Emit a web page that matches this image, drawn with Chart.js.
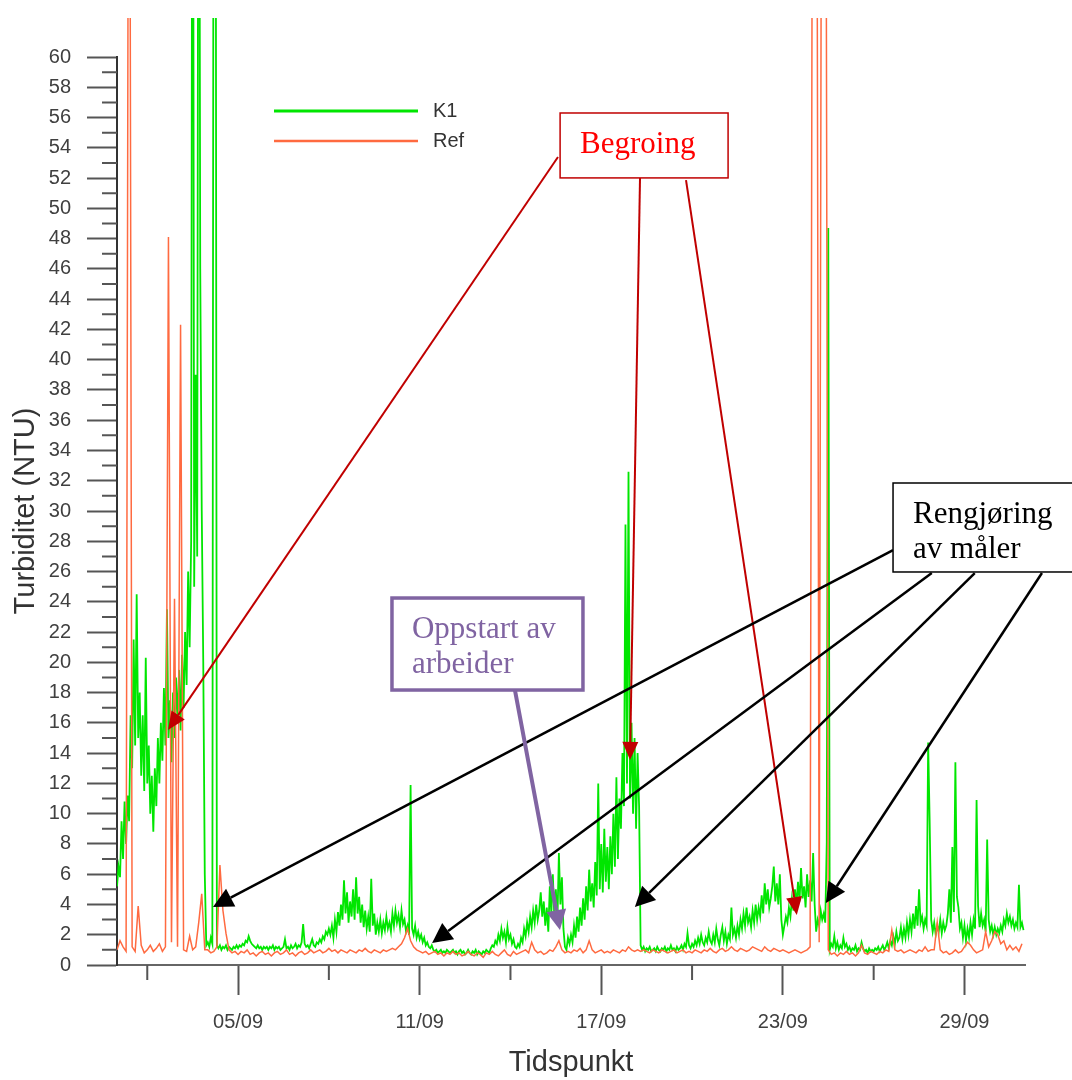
<!DOCTYPE html>
<html>
<head>
<meta charset="utf-8">
<title>Turbiditet K1 / Ref</title>
<script src="https://cdn.jsdelivr.net/npm/chart.js@4.4.1/dist/chart.umd.min.js"></script>
<style>
  html, body { margin: 0; padding: 0; background: #fff; }
  canvas { display: block; }
</style>
</head>
<body>
<canvas id="turbChart" width="1072" height="1080"></canvas>
<script>
/* ---------------- DATA ---------------- */

// x = day of September (1 = 01/09 00:00)
const firstDay = 1;
const k1Step = 0.05;   // K1 read every 1.2 h
const refStep = 0.1;   // Ref read every 2.4 h

// one row = one day
const k1Values = [
  5.2, 6.5, 5.8, 9.5, 7.0, 10.8, 8.0, 11.2, 9.5, 16.5, 13.0, 21.5, 14.5, 24.5, 15.0, 18.0, 12.5, 16.5, 11.5, 20.3,
  12.0, 14.5, 10.0, 12.5, 8.8, 13.0, 10.5, 15.0, 12.0, 16.0, 13.5, 18.3, 14.5, 23.5, 15.0, 17.5, 13.4, 18.0, 15.0, 19.0,
  16.0, 19.5, 15.5, 20.5, 17.0, 22.0, 18.5, 26.0, 21.0, 28.0, 100, 25.0, 39.0, 27.0, 100, 46.0, 30.0, 20.0, 6.0, 1.3,
  1.5, 1.2, 1.8, 1.4, 100, 100, 1.3, 1.1, 1.3, 1.0, 1.2, 1.1, 1.3, 1.0, 1.2, 1.1, 1.0, 1.2, 1.1, 1.3,
  1.1, 1.3, 1.2, 1.4, 1.3, 1.6, 1.5, 1.9, 1.6, 1.4, 1.3, 1.2, 1.1, 1.3, 1.1, 1.2, 1.0, 1.2, 1.1, 1.2,
  1.0, 1.2, 1.1, 1.3, 1.0, 1.2, 1.1, 1.2, 1.0, 1.1, 1.2, 1.7, 1.1, 1.2, 1.0, 1.3, 1.1, 1.2, 1.4, 1.1,
  1.3, 1.2, 1.5, 2.7, 1.4, 1.2, 1.3, 1.1, 1.4, 1.7, 1.3, 1.2, 1.5, 1.4, 1.7, 1.5, 1.9, 1.7, 2.2, 2.0,
  2.4, 2.0, 2.6, 1.8, 3.0, 2.2, 3.5, 2.6, 4.0, 3.0, 5.6, 3.4, 4.8, 2.8, 4.2, 3.2, 5.0, 3.0, 5.8, 3.4,
  4.5, 2.8, 4.0, 2.5, 3.6, 2.4, 3.2, 2.2, 5.7, 2.6, 3.4, 2.0, 2.8, 2.2, 3.0, 2.1, 2.8, 2.3, 3.2, 2.4,
  2.8, 2.2, 3.4, 2.6, 3.6, 2.8, 3.3, 2.5, 3.6, 2.7, 3.0, 2.2, 2.6, 2.0, 11.9, 2.4, 2.0, 2.6, 1.8, 2.2,
  1.7, 2.0, 1.5, 1.8, 1.3, 1.5, 1.2, 1.1, 1.3, 1.0, 0.9, 1.0, 0.8, 0.9, 1.0, 0.8, 0.9, 0.8, 1.0, 0.9,
  0.8, 0.9, 1.0, 0.8, 0.9, 0.7, 0.9, 1.0, 0.8, 0.9, 0.7, 0.8, 1.0, 0.8, 0.7, 0.9, 0.8, 1.0, 0.7, 0.9,
  0.8, 0.7, 0.9, 0.8, 1.0, 0.9, 0.8, 1.1, 1.3, 1.2, 1.6, 1.4, 2.0, 1.6, 2.4, 1.8, 2.2, 1.5, 2.5, 1.7,
  2.0, 1.4, 1.7, 1.2, 1.1, 1.4, 1.2, 1.8, 1.5, 2.4, 1.9, 2.8, 2.2, 3.2, 2.5, 3.6, 2.8, 4.0, 3.0, 3.6,
  4.8, 3.2, 4.2, 2.6, 3.8, 2.2, 5.2, 3.4, 6.0, 3.0, 5.0, 2.8, 7.4, 4.0, 5.8, 2.4, 1.2, 1.0, 1.8, 1.4,
  2.0, 1.5, 2.6, 1.8, 3.2, 2.2, 3.8, 2.6, 4.4, 3.0, 5.2, 3.6, 6.3, 4.2, 5.4, 3.8, 6.8, 4.6, 12.0, 5.0,
  8.0, 4.8, 9.0, 5.5, 7.8, 5.0, 8.5, 6.0, 10.0, 6.5, 12.4, 7.0, 11.0, 9.0, 14.0, 10.5, 29.1, 12.0, 32.6, 11.0,
  16.0, 10.0, 15.0, 9.0, 14.0, 10.5, 1.3, 1.0, 1.2, 0.9, 1.1, 1.0, 1.2, 0.9, 1.0, 1.1, 0.9, 1.2, 1.0, 0.9,
  1.1, 1.0, 1.2, 0.9, 1.1, 1.0, 1.3, 1.0, 1.1, 0.9, 1.2, 1.0, 1.1, 1.3, 1.0, 1.4, 1.2, 2.1, 1.3, 1.1,
  1.4, 1.2, 1.6, 1.3, 1.8, 1.4, 2.0, 1.5, 1.3, 1.8, 1.5, 2.2, 1.6, 1.4, 2.0, 1.5, 2.4, 1.7, 1.3, 2.0,
  2.5, 1.6, 2.2, 1.4, 2.0, 1.7, 3.8, 2.0, 2.4, 1.8, 2.6, 2.0, 3.0, 2.4, 3.4, 2.6, 3.8, 2.8, 3.2, 2.5,
  3.6, 2.8, 4.0, 3.0, 3.8, 3.2, 4.6, 3.4, 5.4, 4.0, 5.0, 3.8, 4.4, 5.2, 6.5, 4.2, 5.4, 4.0, 6.0, 3.0,
  2.0, 2.6, 3.2, 2.8, 3.8, 3.2, 4.4, 3.6, 5.0, 4.0, 5.5, 4.2, 6.4, 4.4, 5.2, 3.8, 6.0, 4.5, 5.6, 4.2,
  7.4, 4.0, 2.2, 3.0, 2.6, 3.6, 3.0, 3.4, 2.8, 8.1, 48.7, 1.0, 1.4, 1.2, 1.9, 1.1, 1.5, 1.0, 1.3, 1.1,
  1.8, 1.2, 1.4, 1.0, 1.2, 0.9, 1.1, 1.0, 1.3, 0.9, 1.1, 1.0, 1.5, 1.1, 0.9, 1.0, 0.8, 1.1, 0.9, 1.0,
  0.9, 1.1, 1.0, 1.2, 0.9, 1.1, 1.3, 1.0, 1.2, 1.5, 1.1, 1.6, 1.3, 1.9, 1.4, 2.2, 1.6, 1.8, 2.5, 1.7,
  2.4, 1.8, 2.8, 2.0, 3.0, 2.2, 3.4, 2.4, 3.9, 2.6, 5.0, 2.8, 3.2, 2.4, 3.0, 2.6, 14.7, 9.5, 3.0, 2.2,
  2.8, 2.0, 2.6, 2.2, 3.0, 2.1, 2.8, 2.3, 2.6, 3.4, 5.0, 2.8, 7.8, 3.5, 13.4, 4.5, 3.8, 2.4, 2.8, 1.8,
  2.6, 1.6, 2.4, 1.8, 2.8, 2.0, 3.0, 2.4, 10.9, 3.9, 2.5, 3.4, 2.6, 3.0, 2.2, 8.3, 3.0, 2.2, 2.6, 2.0,
  2.5, 2.0, 2.4, 2.1, 2.6, 2.2, 3.0, 2.6, 3.4, 2.8, 3.2, 2.6, 3.0, 2.4, 2.8, 2.5, 5.3, 2.5, 2.8, 2.3
];

const refValues = [
  1.0, 1.6, 1.2, 0.9, 100, 1.2, 0.9, 3.9, 1.3, 0.8,
  1.0, 1.3, 0.9, 1.1, 1.4, 0.9, 1.2, 48.1, 1.5, 24.2,
  1.2, 42.3, 1.0, 0.9, 1.9, 1.0, 1.2, 2.8, 4.7, 1.0,
  1.0, 0.8, 0.9, 1.2, 6.6, 3.6, 2.1, 1.0, 0.8, 0.9,
  0.7, 0.9, 0.8, 1.0, 0.7, 0.8, 0.6, 0.8, 0.9, 0.7,
  0.8, 0.6, 0.8, 0.9, 0.7, 0.8, 1.0, 0.7, 0.8, 0.6,
  0.8, 0.9, 0.7, 0.8, 1.0, 0.8, 0.9, 1.0, 0.8, 0.9,
  1.1, 0.9, 1.0, 0.8, 1.0, 0.9, 0.8, 1.0, 0.9, 0.8,
  1.0, 0.9, 1.1, 0.9, 0.8, 1.0, 0.9, 0.8, 1.0, 0.9,
  1.0, 1.1, 1.0, 1.2, 1.4, 1.8, 2.4, 1.6, 1.2, 1.0,
  0.9, 0.8, 0.9, 0.7, 0.8, 0.9, 0.7, 0.8, 0.6, 0.8,
  0.7, 0.9, 0.7, 0.8, 0.6, 0.7, 0.9, 0.7, 0.6, 0.8,
  0.7, 0.5, 0.8, 0.7, 0.9, 0.7, 0.6, 0.8, 1.0, 0.7,
  0.6, 0.9, 0.7, 0.8, 0.9, 1.0, 0.8, 1.5, 1.0, 0.8,
  0.9, 0.7, 0.8, 1.0, 0.9, 1.2, 1.6, 1.0, 0.8, 0.9,
  0.8, 1.0, 0.9, 1.1, 0.8, 1.0, 1.6, 1.0, 0.8, 0.9,
  1.0, 0.8, 0.9, 0.8, 1.0, 0.9, 0.8, 1.0, 0.9, 1.2,
  1.0, 0.9, 1.0, 0.9, 1.0, 0.9, 0.8, 1.0, 0.9, 0.8,
  1.0, 0.9, 0.8, 0.9, 1.0, 0.8, 0.9, 1.0, 0.8, 0.9,
  0.8, 1.0, 0.9, 0.8, 1.0, 0.9, 1.1, 0.9, 0.8, 1.0,
  1.1, 0.9, 1.0, 1.2, 1.0, 0.9, 1.1, 1.0, 0.9, 1.0,
  1.2, 1.1, 1.0, 0.9, 1.2, 1.0, 0.9, 1.1, 1.0, 0.9,
  1.0, 0.9, 0.8, 0.9, 1.0, 0.9, 0.8, 0.9, 1.0, 1.2,
  100, 100, 1.5, 100, 100, 1.0, 0.7, 0.8, 0.6, 0.8,
  0.7, 0.9, 0.7, 0.8, 0.6, 0.8, 1.3, 0.8, 0.7, 0.9,
  0.8, 0.7, 0.9, 0.8, 1.0, 0.9, 2.3, 1.0, 0.9, 1.0,
  0.8, 0.9, 1.0, 0.9, 0.8, 1.0, 0.9, 1.2, 0.9, 1.0,
  1.0, 2.8, 1.0, 0.8, 0.9, 0.7, 0.8, 1.0, 0.8, 0.9,
  1.2, 1.5, 1.3, 1.0, 0.8, 0.9, 1.0, 2.2, 1.2, 1.6,
  2.2, 2.0, 1.4, 1.6, 1.0, 1.3, 1.0, 1.2, 0.9, 1.4
];

const xMajorDays = [5, 11, 17, 23, 29];
const xMajorLabels = ["05/09", "11/09", "17/09", "23/09", "29/09"];
const xMinorDays = [2, 8, 14, 20, 26];
const yMinorTicks = [1, 3, 5, 7, 9, 11, 13, 15, 17, 19, 21, 23, 25, 27, 29,
  31, 33, 35, 37, 39, 41, 43, 45, 47, 49, 51, 53, 55, 57, 59];

/* ---------------- CALLOUTS (in day / NTU units) ---------------- */

const callouts = [
  {
    lines: ["Begroing"],
    box: [15.64, 56.3, 21.19, 52.01],
    color: "#c00000", textColor: "#ff0000", borderWidth: 1.5,
    arrowWidth: 2, head: [18, 8],
    arrows: [[15.57, 53.39, 2.685, 15.53], [18.28, 52.01, 17.95, 13.55], [19.80, 51.87, 23.46, 3.30]]
  },
  {
    lines: ["Rengjøring", "av måler"],
    box: [26.64, 31.85, 32.6, 25.97],
    color: "#000000", textColor: "#000000", borderWidth: 1.5,
    arrowWidth: 2.5, head: [20, 10],
    arrows: [[26.64, 27.42, 4.171, 3.833], [27.92, 25.90, 11.41, 1.454], [29.34, 25.90, 18.11, 3.833], [31.56, 25.90, 24.42, 4.097]]
  },
  {
    lines: ["Oppstart av", "arbeider"],
    box: [10.085, 24.25, 16.395, 18.17],
    color: "#8064a2", textColor: "#8064a2", borderWidth: 3.5,
    arrowWidth: 4, head: [20, 10],
    arrows: [[14.148, 18.17, 15.635, 2.313]]
  }
];

/* ---------------- HELPERS ---------------- */

const sans = '"Liberation Sans", Arial, sans-serif';
const serif = '"Liberation Serif", "Times New Roman", serif';

const toPoints = (vals, step) => vals.map((v, i) => ({ x: firstDay + i * step, y: v }));

function drawArrow(ctx, x1, y1, x2, y2, color, width, head) {
  const ang = Math.atan2(y2 - y1, x2 - x1);
  const bx = x2 - head[0] * Math.cos(ang);
  const by = y2 - head[0] * Math.sin(ang);
  ctx.strokeStyle = color;
  ctx.lineWidth = width;
  ctx.beginPath();
  ctx.moveTo(x1, y1);
  ctx.lineTo(bx, by);
  ctx.stroke();
  ctx.fillStyle = color;
  ctx.beginPath();
  ctx.moveTo(x2, y2);
  ctx.lineTo(bx + head[1] * Math.sin(ang), by - head[1] * Math.cos(ang));
  ctx.lineTo(bx - head[1] * Math.sin(ang), by + head[1] * Math.cos(ang));
  ctx.closePath();
  ctx.fill();
}

/* ---------------- PLUGINS ---------------- */

const minorTicks = {
  id: "minorTicks",
  afterDraw(chart) {
    const { ctx, chartArea, scales: { x, y } } = chart;
    ctx.save();
    ctx.strokeStyle = "#555";
    ctx.lineWidth = 2;
    ctx.beginPath();
    yMinorTicks.forEach(v => {
      const py = y.getPixelForValue(v);
      ctx.moveTo(chartArea.left - 15, py);
      ctx.lineTo(chartArea.left, py);
    });
    xMinorDays.forEach(d => {
      const px = x.getPixelForValue(d);
      ctx.moveTo(px, chartArea.bottom);
      ctx.lineTo(px, chartArea.bottom + 15);
    });
    ctx.stroke();
    ctx.restore();
  }
};

const lineLegend = {
  id: "lineLegend",
  afterDraw(chart) {
    const { ctx, chartArea } = chart;
    const x0 = chartArea.left + 157;
    const x1 = x0 + 144;
    ctx.save();
    chart.data.datasets.forEach((ds, i) => {
      const yy = 111 + i * 30;
      ctx.strokeStyle = ds.borderColor;
      ctx.lineWidth = ds.borderWidth + 1;
      ctx.beginPath();
      ctx.moveTo(x0, yy);
      ctx.lineTo(x1, yy);
      ctx.stroke();
      ctx.fillStyle = "#333";
      ctx.font = "20px " + sans;
      ctx.textBaseline = "middle";
      ctx.fillText(ds.label, x1 + 15, yy);
    });
    ctx.restore();
  }
};

const calloutPlugin = {
  id: "callouts",
  afterDraw(chart) {
    const { ctx, scales: { x, y } } = chart;
    ctx.save();
    callouts.forEach(c => {
      c.arrows.forEach(a => {
        drawArrow(ctx, x.getPixelForValue(a[0]), y.getPixelForValue(a[1]),
          x.getPixelForValue(a[2]), y.getPixelForValue(a[3]), c.color, c.arrowWidth, c.head);
      });
    });
    callouts.forEach(c => {
      const left = x.getPixelForValue(c.box[0]);
      const top = y.getPixelForValue(c.box[1]);
      const right = x.getPixelForValue(c.box[2]);
      const bottom = y.getPixelForValue(c.box[3]);
      ctx.fillStyle = "#fff";
      ctx.fillRect(left, top, right - left, bottom - top);
      ctx.strokeStyle = c.color;
      ctx.lineWidth = c.borderWidth;
      ctx.strokeRect(left, top, right - left, bottom - top);
      ctx.fillStyle = c.textColor;
      ctx.font = "31px " + serif;
      ctx.textBaseline = "alphabetic";
      c.lines.forEach((t, i) => ctx.fillText(t, left + 20, top + 40 + i * 35));
    });
    ctx.restore();
  }
};

/* ---------------- CHART ---------------- */

const clipTop = { left: 0, top: 39, right: 0, bottom: 0 };

new Chart(document.getElementById("turbChart"), {
  type: "line",
  data: {
    datasets: [
      { label: "K1", data: toPoints(k1Values, k1Step), borderColor: "#00e600", borderWidth: 1.8,
        pointRadius: 0, order: 2, clip: clipTop },
      { label: "Ref", data: toPoints(refValues, refStep), borderColor: "#ff6a40", borderWidth: 1.5,
        pointRadius: 0, order: 1, clip: clipTop }
    ]
  },
  options: {
    responsive: false,
    animation: false,
    layout: { padding: { top: 57, right: 47, left: 0, bottom: 0 } },
    plugins: { legend: { display: false }, tooltip: { enabled: false } },
    scales: {
      x: {
        type: "linear",
        min: 1,
        max: 31,
        afterFit: s => { s.height = 115; },
        afterBuildTicks: s => { s.ticks = xMajorDays.map(v => ({ value: v })); },
        ticks: {
          autoSkip: false, maxRotation: 0, padding: 15, color: "#404040",
          font: { family: sans, size: 20 },
          callback: v => xMajorLabels[xMajorDays.indexOf(v)]
        },
        grid: { drawOnChartArea: false, tickLength: 30, tickColor: "#555", tickWidth: 2 },
        border: { color: "#666", width: 2 },
        title: { display: true, text: "Tidspunkt", color: "#333",
          font: { family: sans, size: 29 }, padding: { top: 0, bottom: 0 } }
      },
      y: {
        min: 0,
        max: 60,
        afterFit: s => { s.width = 117; },
        ticks: { stepSize: 2, padding: 16, color: "#404040", font: { family: sans, size: 20 } },
        grid: { drawOnChartArea: false, tickLength: 30, tickColor: "#555", tickWidth: 2 },
        border: { color: "#333", width: 2 },
        title: { display: true, text: "Turbiditet (NTU)", color: "#333",
          font: { family: sans, size: 29 }, padding: { top: 9, bottom: 0 } }
      }
    }
  },
  plugins: [minorTicks, lineLegend, calloutPlugin]
});
</script>
</body>
</html>
